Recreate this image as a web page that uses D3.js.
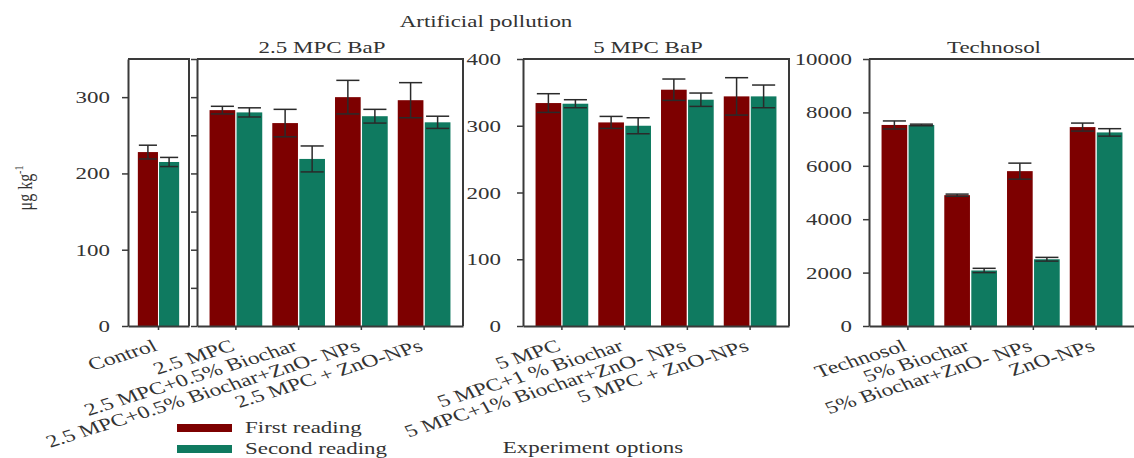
<!DOCTYPE html>
<html>
<head>
<meta charset="utf-8">
<script src="https://cdn.jsdelivr.net/npm/d3@7"></script>
<style>
body { margin: 0; background: #fff; }
text { font-family: "Liberation Serif", "Times New Roman", serif; font-size: 17px; fill: #333; }
</style>
</head>
<body>
<script>
// ---- data ----
var seriesNames = ["First reading", "Second reading"];

var controlCats = ["Control"];
var controlFirst = [228], controlFirstErr = [9];
var controlSecond = [215], controlSecondErr = [6];
var controlTicks = [0, 100, 200, 300];

var mpc25Cats = ["2.5 MPC", "2.5 MPC+0.5% Biochar", "2.5 MPC+0.5% Biochar+ZnO- NPs", "2.5 MPC + ZnO-NPs"];
var mpc25First = [283, 266, 300, 296], mpc25FirstErr = [5, 18, 22, 23];
var mpc25Second = [280, 219, 275, 267], mpc25SecondErr = [6, 17, 9, 8];
var mpc25Ticks = [0, 50, 100, 150, 200, 250, 300, 350];

var mpc5Cats = ["5 MPC", "5 MPC+1 % Biochar", "5 MPC+1% Biochar+ZnO- NPs", "5 MPC + ZnO-NPs"];
var mpc5First = [334, 305, 354, 344], mpc5FirstErr = [14, 9, 16, 28];
var mpc5Second = [333, 300, 339, 344], mpc5SecondErr = [6, 12, 10, 17];
var mpc5Ticks = [0, 100, 200, 300, 400];

var technoCats = ["Technosol", "5% Biochar", "5% Biochar+ZnO- NPs", "ZnO-NPs"];
var technoFirst = [7530, 4900, 5800, 7450], technoFirstErr = [150, 40, 300, 150];
var technoSecond = [7530, 2080, 2500, 7250], technoSecondErr = [30, 80, 70, 140];
var technoTicks = [0, 2000, 4000, 6000, 8000, 10000];

// ---- layout ----
var W = 1134, H = 458,
    yBottom = 326, yTop = 59,
    sx = 1.35,                     // the figure's text is stretched horizontally
    colors = ["#7d0000", "#0f7a60"],
    axisColor = "#3a3a3a";

var svg = d3.select("body").append("svg")
    .attr("width", W)
    .attr("height", H);

// text with the horizontal stretch of the original picture
function addText(parent, str, x, y, anchor, rot) {
    return parent.append("text")
        .attr("transform", "translate(" + x + "," + y + ") scale(" + sx + ",1)" + (rot ? " rotate(" + rot + ")" : ""))
        .attr("text-anchor", anchor)
        .text(str);
}

var panels = [
    {cats: controlCats, vals: [controlFirst, controlSecond], errs: [controlFirstErr, controlSecondErr],
     max: 350, ticks: controlTicks, labels: true, x0: 128, x1: 189, labelGap: 18, title: null},
    {cats: mpc25Cats, vals: [mpc25First, mpc25Second], errs: [mpc25FirstErr, mpc25SecondErr],
     max: 350, ticks: mpc25Ticks, labels: false, x0: 197, x1: 463, labelGap: 18, title: "2.5 MPC BaP"},
    {cats: mpc5Cats, vals: [mpc5First, mpc5Second], errs: [mpc5FirstErr, mpc5SecondErr],
     max: 400, ticks: mpc5Ticks, labels: true, x0: 523, x1: 789, labelGap: 22, title: "5 MPC BaP"},
    {cats: technoCats, vals: [technoFirst, technoSecond], errs: [technoFirstErr, technoSecondErr],
     max: 10000, ticks: technoTicks, labels: true, x0: 869, x1: 1135, labelGap: 17, title: "Technosol"}
];

panels.forEach(function(p) {
    var g = svg.append("g");

    var yScale = d3.scaleLinear().domain([0, p.max]).range([yBottom, yTop]);
    var xScale = d3.scaleBand().domain(p.cats).range([p.x0, p.x1])
        .paddingInner(0.16).paddingOuter(0.2);
    var xSub = d3.scaleBand().domain([0, 1]).range([0, xScale.bandwidth()]).paddingInner(0.05);

    // bars and error bars
    [0, 1].forEach(function(s) {
        var rows = p.cats.map(function(c, i) { return {cat: c, v: p.vals[s][i], e: p.errs[s][i]}; });

        g.selectAll(".bar" + s)
            .data(rows)
            .enter().append("rect")
            .attr("x", function(d) { return xScale(d.cat) + xSub(s); })
            .attr("y", function(d) { return yScale(d.v); })
            .attr("width", xSub.bandwidth())
            .attr("height", function(d) { return yBottom - yScale(d.v); })
            .attr("fill", colors[s]);

        var cap = xSub.bandwidth() * 0.45;
        var eb = g.selectAll(".err" + s)
            .data(rows)
            .enter().append("g")
            .attr("stroke", "#2a2a2a")
            .attr("stroke-width", 1.5);
        eb.append("line")
            .attr("x1", function(d) { return xScale(d.cat) + xSub(s) + xSub.bandwidth() / 2; })
            .attr("x2", function(d) { return xScale(d.cat) + xSub(s) + xSub.bandwidth() / 2; })
            .attr("y1", function(d) { return yScale(d.v + d.e); })
            .attr("y2", function(d) { return yScale(d.v - d.e); });
        [1, -1].forEach(function(k) {
            eb.append("line")
                .attr("x1", function(d) { return xScale(d.cat) + xSub(s) + xSub.bandwidth() / 2 - cap; })
                .attr("x2", function(d) { return xScale(d.cat) + xSub(s) + xSub.bandwidth() / 2 + cap; })
                .attr("y1", function(d) { return yScale(d.v + k * d.e); })
                .attr("y2", function(d) { return yScale(d.v + k * d.e); });
        });
    });

    // frame (top and right)
    g.append("path")
        .attr("d", "M" + p.x0 + "," + yTop + "H" + p.x1 + "V" + yBottom)
        .attr("fill", "none")
        .attr("stroke", axisColor)
        .attr("stroke-width", 2);

    // y axis
    var yAx = g.append("g")
        .attr("transform", "translate(" + p.x0 + ",0)")
        .call(d3.axisLeft(yScale).tickValues(p.ticks).tickSize(6).tickSizeOuter(0).tickFormat(""));
    yAx.select(".domain").attr("stroke", axisColor).attr("stroke-width", 2);
    yAx.selectAll(".tick line").attr("stroke", axisColor).attr("stroke-width", 1.5);
    if (p.labels) {
        p.ticks.forEach(function(t) {
            addText(g, t, p.x0 - p.labelGap, yScale(t) + 6, "end");
        });
    }

    // x axis
    var xAx = g.append("g")
        .attr("transform", "translate(0," + yBottom + ")")
        .call(d3.axisBottom(xScale).tickSize(4).tickSizeOuter(0).tickFormat(""));
    xAx.select(".domain").attr("stroke", axisColor).attr("stroke-width", 2);
    xAx.selectAll(".tick line").attr("stroke", axisColor).attr("stroke-width", 1.5);
    p.cats.forEach(function(c) {
        addText(g, c, xScale(c) + xScale.bandwidth() / 2, yBottom + 24, "end", -23)
            .style("font-size", "17.5px");
    });

    if (p.title) {
        addText(g, p.title, (p.x0 + p.x1) / 2 - 8, 53, "middle");
    }
});

// overall titles
addText(svg, "Artificial pollution", 486, 27, "middle");
addText(svg, "Experiment options", 593, 453, "middle");

// y axis title
var yt = svg.append("text")
    .attr("transform", "translate(32,188) scale(" + sx + ",1) rotate(-90)")
    .attr("text-anchor", "middle")
    .style("font-size", "16px");
yt.append("tspan").text("μg kg");
yt.append("tspan").attr("dy", -7).style("font-size", "10px").text("-1");

// legend
var legend = svg.append("g");
seriesNames.forEach(function(name, i) {
    legend.append("rect")
        .attr("x", 177)
        .attr("y", 424 + i * 21)
        .attr("width", 55)
        .attr("height", 8)
        .attr("fill", colors[i]);
    addText(legend, name, 245, 433 + i * 21, "start");
});
</script>
</body>
</html>
